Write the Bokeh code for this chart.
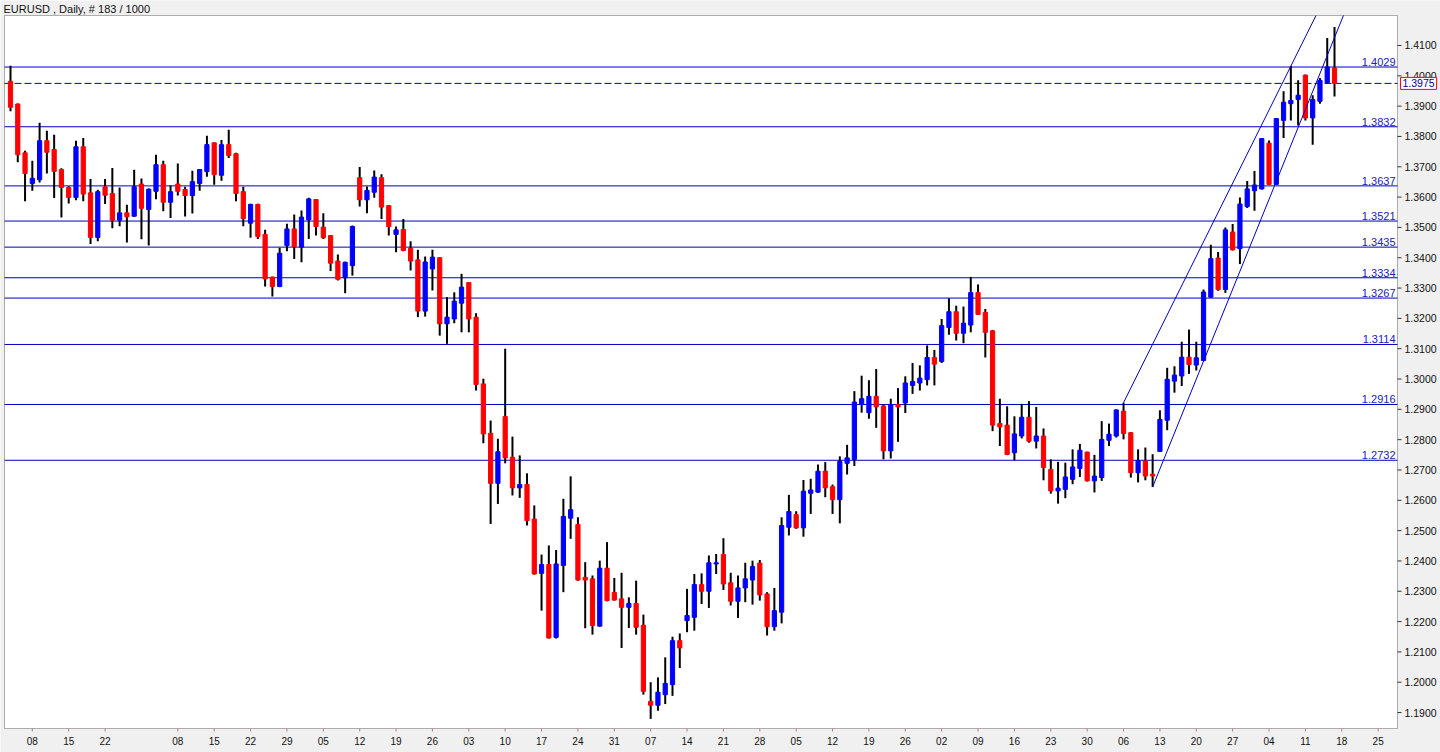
from bokeh.plotting import figure
from bokeh.models import Range1d, Label, BoxAnnotation
from bokeh.core.properties import value
from bokeh.embed import file_html
from bokeh.resources import INLINE

# ---------------- data (EURUSD daily) ----------------
open_ = [1.3982, 1.3907, 1.3746, 1.3645, 1.3657, 1.3786, 1.3757, 1.3691, 1.3632, 1.3599,
         1.3766, 1.3614, 1.3467, 1.3634, 1.3612, 1.3524, 1.3548, 1.3537, 1.3643, 1.3559,
         1.3619, 1.3707, 1.3583, 1.3643, 1.3625, 1.3605, 1.3645, 1.3684, 1.3779, 1.3672,
         1.3773, 1.3743, 1.3618, 1.3514, 1.3576, 1.3477, 1.3336, 1.3305, 1.3440, 1.3495,
         1.3435, 1.3525, 1.3592, 1.3501, 1.3473, 1.3389, 1.3334, 1.3374, 1.3664, 1.3591,
         1.3616, 1.3664, 1.3572, 1.3477, 1.3493, 1.3431, 1.3393, 1.3224, 1.3363, 1.3400,
         1.3182, 1.3198, 1.3250, 1.3318, 1.3204, 1.2984, 1.2821, 1.2656, 1.2876, 1.2742,
         1.2641, 1.2652, 1.2538, 1.2359, 1.2388, 1.2148, 1.2385, 1.2541, 1.2520, 1.2346,
         1.2341, 1.2185, 1.2376, 1.2296, 1.2275, 1.2247, 1.2260, 1.2188, 1.1937, 1.1924,
         1.1959, 1.1992, 1.2137, 1.2203, 1.2214, 1.2322, 1.2300, 1.2390, 1.2421, 1.2328,
         1.2267, 1.2311, 1.2337, 1.2393, 1.2291, 1.2183, 1.2231, 1.2511, 1.2553, 1.2509,
         1.2623, 1.2627, 1.2696, 1.2645, 1.2602, 1.2722, 1.2735, 1.2916, 1.2889, 1.2943,
         1.2911, 1.2763, 1.2916, 1.2921, 1.2979, 1.2987, 1.2998, 1.3071, 1.3058, 1.3170,
         1.3222, 1.3151, 1.3178, 1.3285, 1.3220, 1.3159, 1.2853, 1.2848, 1.2757, 1.2812,
         1.2874, 1.2795, 1.2812, 1.2702, 1.2631, 1.2636, 1.2669, 1.2705, 1.2759, 1.2664,
         1.2675, 1.2798, 1.2812, 1.2894, 1.2823, 1.2691, 1.2730, 1.2686, 1.2761, 1.2864,
         1.2993, 1.3010, 1.3072, 1.3046, 1.3061, 1.3270, 1.3399, 1.3295, 1.3485, 1.3430,
         1.3569, 1.3621, 1.3627, 1.3778, 1.3642, 1.3853, 1.3908, 1.3922, 1.4002, 1.3861,
         1.3916, 1.3977, 1.4026]
high = [1.4033, 1.3909, 1.3753, 1.3720, 1.3845, 1.3819, 1.3806, 1.3695, 1.3636, 1.3786,
        1.3795, 1.3660, 1.3624, 1.3660, 1.3696, 1.3632, 1.3575, 1.3690, 1.3661, 1.3628,
        1.3740, 1.3720, 1.3638, 1.3711, 1.3634, 1.3687, 1.3692, 1.3802, 1.3780, 1.3788,
        1.3822, 1.3746, 1.3634, 1.3578, 1.3578, 1.3492, 1.3338, 1.3433, 1.3512, 1.3543,
        1.3556, 1.3598, 1.3594, 1.3547, 1.3475, 1.3411, 1.3387, 1.3506, 1.3699, 1.3635,
        1.3688, 1.3675, 1.3574, 1.3503, 1.3528, 1.3454, 1.3426, 1.3404, 1.3426, 1.3402,
        1.3270, 1.3286, 1.3347, 1.3319, 1.3217, 1.3001, 1.2863, 1.2803, 1.3100, 1.2810,
        1.2748, 1.2689, 1.2583, 1.2421, 1.2451, 1.2436, 1.2605, 1.2679, 1.2544, 1.2396,
        1.2352, 1.2401, 1.2462, 1.2344, 1.2361, 1.2280, 1.2335, 1.2223, 1.2000, 1.2016,
        1.2082, 1.2150, 1.2161, 1.2308, 1.2357, 1.2359, 1.2418, 1.2423, 1.2475, 1.2361,
        1.2352, 1.2394, 1.2401, 1.2403, 1.2297, 1.2311, 1.2544, 1.2618, 1.2564, 1.2667,
        1.2671, 1.2718, 1.2726, 1.2652, 1.2745, 1.2783, 1.2960, 1.3011, 1.2996, 1.3033,
        1.2916, 1.2935, 1.2970, 1.3009, 1.3053, 1.3045, 1.3111, 1.3096, 1.3198, 1.3266,
        1.3242, 1.3239, 1.3337, 1.3312, 1.3231, 1.3162, 1.2935, 1.2910, 1.2877, 1.2918,
        1.2927, 1.2908, 1.2837, 1.2735, 1.2727, 1.2724, 1.2768, 1.2786, 1.2760, 1.2750,
        1.2861, 1.2853, 1.2900, 1.2922, 1.2825, 1.2768, 1.2774, 1.2752, 1.2897, 1.3037,
        1.3042, 1.3123, 1.3163, 1.3123, 1.3295, 1.3443, 1.3419, 1.3500, 1.3511, 1.3599,
        1.3653, 1.3686, 1.3795, 1.3787, 1.3861, 1.3949, 1.4032, 1.3985, 1.4004, 1.3936,
        1.3993, 1.4125, 1.4161]
low = [1.3883, 1.3715, 1.3586, 1.3621, 1.3648, 1.3678, 1.3597, 1.3533, 1.3579, 1.3590,
       1.3586, 1.3445, 1.3454, 1.3577, 1.3497, 1.3504, 1.3450, 1.3535, 1.3461, 1.3440,
       1.3593, 1.3553, 1.3531, 1.3605, 1.3536, 1.3546, 1.3621, 1.3667, 1.3641, 1.3654,
       1.3729, 1.3586, 1.3504, 1.3466, 1.3462, 1.3305, 1.3272, 1.3303, 1.3421, 1.3396,
       1.3385, 1.3462, 1.3473, 1.3462, 1.3356, 1.3325, 1.3283, 1.3341, 1.3569, 1.3547,
       1.3598, 1.3528, 1.3473, 1.3418, 1.3421, 1.3358, 1.3204, 1.3206, 1.3292, 1.3143,
       1.3116, 1.3184, 1.3154, 1.3154, 1.2962, 1.2788, 1.2522, 1.2588, 1.2722, 1.2616,
       1.2608, 1.2517, 1.2355, 1.2236, 1.2144, 1.2144, 1.2297, 1.2473, 1.2335, 1.2178,
       1.2157, 1.2183, 1.2267, 1.2269, 1.2113, 1.2179, 1.2157, 1.1959, 1.1879, 1.1906,
       1.1928, 1.1955, 1.2047, 1.2165, 1.2170, 1.2258, 1.2245, 1.2357, 1.2304, 1.2253,
       1.2212, 1.2264, 1.2256, 1.2269, 1.2154, 1.2170, 1.2194, 1.2484, 1.2506, 1.2480,
       1.2555, 1.2625, 1.2610, 1.2555, 1.2524, 1.2685, 1.2713, 1.2889, 1.2869, 1.2839,
       1.2735, 1.2738, 1.2793, 1.2888, 1.2951, 1.2962, 1.2979, 1.2979, 1.3053, 1.3146,
       1.3127, 1.3118, 1.3154, 1.3211, 1.3071, 1.2828, 1.2779, 1.2749, 1.2732, 1.2804,
       1.2790, 1.2771, 1.2666, 1.2622, 1.2589, 1.2607, 1.2653, 1.2677, 1.2662, 1.2626,
       1.2664, 1.2779, 1.2807, 1.2801, 1.2675, 1.2659, 1.2666, 1.2644, 1.2759, 1.2831,
       1.2955, 1.2977, 1.3017, 1.3028, 1.3059, 1.3268, 1.3291, 1.3284, 1.3424, 1.3379,
       1.3564, 1.3555, 1.3625, 1.3640, 1.3640, 1.3795, 1.3853, 1.3836, 1.3853, 1.3773,
       1.3908, 1.3975, 1.3932]
close = [1.3896, 1.3740, 1.3678, 1.3662, 1.3786, 1.3748, 1.3685, 1.3632, 1.3599, 1.3766,
         1.3610, 1.3467, 1.3618, 1.3606, 1.3524, 1.3548, 1.3535, 1.3634, 1.3563, 1.3626,
         1.3707, 1.3583, 1.3618, 1.3619, 1.3605, 1.3651, 1.3691, 1.3773, 1.3674, 1.3773,
         1.3737, 1.3612, 1.3529, 1.3576, 1.3470, 1.3330, 1.3305, 1.3415, 1.3495, 1.3437,
         1.3534, 1.3594, 1.3503, 1.3466, 1.3382, 1.3329, 1.3385, 1.3503, 1.3591, 1.3622,
         1.3666, 1.3567, 1.3503, 1.3492, 1.3424, 1.3389, 1.3224, 1.3386, 1.3402, 1.3182,
         1.3204, 1.3257, 1.3303, 1.3198, 1.2982, 1.2819, 1.2656, 1.2760, 1.2740, 1.2641,
         1.2652, 1.2533, 1.2357, 1.2388, 1.2146, 1.2390, 1.2547, 1.2569, 1.2337, 1.2337,
         1.2187, 1.2376, 1.2269, 1.2271, 1.2247, 1.2260, 1.2181, 1.1970, 1.1924, 1.1967,
         1.1996, 1.2137, 1.2113, 1.2220, 1.2322, 1.2300, 1.2394, 1.2394, 1.2324, 1.2267,
         1.2311, 1.2341, 1.2382, 1.2288, 1.2183, 1.2236, 1.2517, 1.2563, 1.2509, 1.2630,
         1.2634, 1.2696, 1.2641, 1.2602, 1.2728, 1.2740, 1.2924, 1.2935, 1.2943, 1.2908,
         1.2763, 1.2916, 1.2908, 1.2987, 1.2992, 1.3003, 1.3071, 1.3049, 1.3176, 1.3222,
         1.3151, 1.3184, 1.3285, 1.3213, 1.3154, 1.2848, 1.2842, 1.2751, 1.2819, 1.2874,
         1.2795, 1.2812, 1.2708, 1.2631, 1.2640, 1.2677, 1.2710, 1.2765, 1.2664, 1.2680,
         1.2801, 1.2818, 1.2898, 1.2820, 1.2691, 1.2730, 1.2680, 1.2680, 1.2867, 1.2999,
         1.3013, 1.3072, 1.3048, 1.3070, 1.3287, 1.3397, 1.3295, 1.3492, 1.3426, 1.3577,
         1.3627, 1.3640, 1.3793, 1.3642, 1.3859, 1.3913, 1.3919, 1.3936, 1.3861, 1.3922,
         1.3985, 1.4029, 1.3975]

# horizontal support / resistance levels
levels = [1.4029, 1.3832, 1.3637, 1.3521, 1.3435, 1.3334, 1.3267, 1.3114, 1.2916, 1.2732]

# date tick labels (bar index of each Monday shown, and its label)
date_ticks = [3, 8, 13, 23, 28, 33, 38, 43, 48, 53, 58, 63, 68, 73, 78, 83, 88, 93, 98,
              103, 108, 113, 118, 123, 128, 133, 138, 143, 148, 153, 158, 163, 168, 173,
              178, 183, 188]
date_labels = ["08", "15", "22", "08", "15", "22", "29", "05", "12", "19", "26", "03",
               "10", "17", "24", "31", "07", "14", "21", "28", "05", "12", "19", "26",
               "02", "09", "16", "23", "30", "06", "13", "20", "27", "04", "11", "18", "25"]

# price tick labels
price_ticks = [1.19, 1.20, 1.21, 1.22, 1.23, 1.24, 1.25, 1.26, 1.27, 1.28, 1.29, 1.30,
               1.31, 1.32, 1.33, 1.34, 1.35, 1.36, 1.37, 1.38, 1.39, 1.40, 1.41]
price_labels = [f"{t:.4f}" for t in price_ticks]

# trend channel anchors (bar indices)
upper_anchor = (153, 176)   # through highs
lower_anchor = (157, 164)   # through lows

title_text = "EURUSD , Daily, # 183 / 1000"

# ---------------- geometry / style ----------------
BLUE_LINE = "#0000C0"
GREY = "#F0F0F0"
W, H = 1440, 752
PX = 7.2747                  # screen px per bar
PY = 1.0 / 3032.0            # price per screen px
# chart border in data units
XL, XR = -0.825, 190.66
YB, YT = 1.184736, 1.419894
# whole canvas in data units
X0, X1 = XL - 4.0 / PX, XR + 43.0 / PX
Y0, Y1 = YB - 24.0 * PY, YT + 15.0 * PY

p = figure(width=W, height=H, output_backend="svg", toolbar_location=None,
           x_range=Range1d(X0, X1), y_range=Range1d(Y0, Y1),
           x_axis_location=None, y_axis_location=None,
           min_border_left=0, min_border_top=0, min_border_bottom=0, min_border_right=0,
           background_fill_color=GREY, border_fill_color=GREY,
           outline_line_color=None)
p.grid.visible = False

# title in the top grey strip
p.add_layout(Label(x=XL, y=YT, x_offset=-1, y_offset=7, text=title_text,
                   text_align="left", text_baseline="middle",
                   text_font="Liberation Sans", text_font_size="11px",
                   text_color="#111111"))

# chart area (white with black border)
p.add_layout(BoxAnnotation(left=XL, right=XR, bottom=YB, top=YT, fill_color="white",
                           fill_alpha=1.0, line_color="black", line_width=1,
                           level="underlay"))

# ---------------- date scale (bottom) ----------------
n_d = len(date_ticks)
p.segment(x0=date_ticks, y0=[YB] * n_d, x1=date_ticks, y1=[YB - 3 * PY] * n_d,
          line_color="#B08080", line_width=1)
p.text(x=date_ticks, y=[YB - 12 * PY] * n_d, text=date_labels,
       text_font=value("Liberation Sans"), text_font_size="10px",
       text_color="#111111", text_align="center", text_baseline="middle")

# ---------------- price scale (right) ----------------
n_p = len(price_ticks)
p.segment(x0=[XR] * n_p, y0=price_ticks, x1=[XR + 4.0 / PX] * n_p, y1=price_ticks,
          line_color="#333333", line_width=1)
p.text(x=[XR + 7.0 / PX] * n_p, y=price_ticks, text=price_labels,
       text_font=value("Liberation Sans"), text_font_size="10.5px",
       text_color="#111111", text_align="left", text_baseline="middle")

# ---------------- levels ----------------
p.segment(x0=[XL] * len(levels), y0=levels, x1=[XR] * len(levels), y1=levels,
          line_color=BLUE_LINE, line_width=1)
for lv in levels:
    p.add_layout(Label(x=XR, y=lv, x_offset=-2, y_offset=1, text=f"{lv:.4f}",
                       text_align="right", text_baseline="bottom",
                       text_font="Liberation Sans", text_font_size="11px",
                       text_color="#2020C0"))

last_price = close[-1]
p.segment(x0=[XL], y0=[last_price], x1=[XR], y1=[last_price], line_color=BLUE_LINE,
          line_width=1, line_dash="7 3")

# ---------------- candles ----------------
idx = list(range(len(close)))
colors = ["#0000FF" if c >= o else "#FF0000" for o, c in zip(open_, close)]
tops = [max(o, c) for o, c in zip(open_, close)]
bots = [min(o, c) for o, c in zip(open_, close)]

p.segment(x0=idx, y0=low, x1=idx, y1=high, line_color="black", line_width=2)
p.vbar(x=idx, width=0.58, top=tops, bottom=bots, fill_color=colors,
       line_color=colors, line_width=1)

# ---------------- trend channel ----------------
def channel(series, a, b):
    slope = (series[b] - series[a]) / (b - a)
    x_end = a + (YT - series[a]) / slope
    return [a, x_end], [series[a], YT]

ux, uy = channel(high, *upper_anchor)
lx, ly = channel(low, *lower_anchor)
p.line(ux, uy, line_color=BLUE_LINE, line_width=1)
p.line(lx, ly, line_color=BLUE_LINE, line_width=1)

# ---------------- last price box on the price scale ----------------
p.add_layout(Label(x=XR, y=last_price, x_offset=3, text=f"{last_price:.4f}",
                   text_align="left", text_baseline="middle",
                   text_font="Liberation Sans", text_font_size="10.5px",
                   text_color="#0000A0", background_fill_color="white",
                   border_line_color="#FF0000", border_line_width=1, padding=2))

open("out.html", "w").write(file_html(p, INLINE))
